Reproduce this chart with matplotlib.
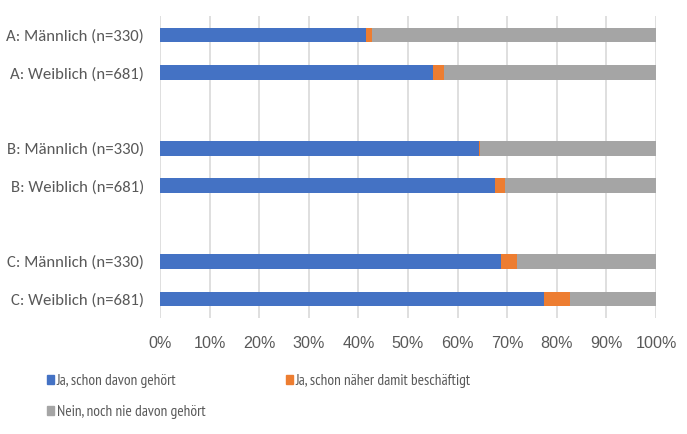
import matplotlib
matplotlib.use("Agg")
import matplotlib.pyplot as plt
from matplotlib.patches import Patch
from matplotlib.ticker import PercentFormatter, MultipleLocator

categories = ["A: Männlich (n=330)", "A: Weiblich (n=681)", "",
              "B: Männlich (n=330)", "B: Weiblich (n=681)", "",
              "C: Männlich (n=330)", "C: Weiblich (n=681)"]
gehoert = [41.5, 55.0, 0, 64.3, 67.6, 0, 68.8, 77.4]
beschaeftigt = [1.2, 2.3, 0, 0.3, 2.0, 0, 3.2, 5.3]
nie = [57.3, 42.7, 0, 35.4, 30.4, 0, 28.0, 17.3]
series_names = ["Ja, schon davon gehört", "Ja, schon näher damit beschäftigt",
                "Nein, noch nie davon gehört"]
colors = ["#4472C4", "#ED7D31", "#A5A5A5"]

plt.rcParams['font.family'] = ['Carlito', 'DejaVu Sans']
text_color = "#595959"

fig = plt.figure(figsize=(6.87, 4.34), dpi=100)
ax = fig.add_axes([160/687, 1-317.8/434, 496/687, 301.6/434])

y = list(range(len(categories)))
left = [0]*len(categories)
for vals, col in zip([gehoert, beschaeftigt, nie], colors):
    ax.barh(y, vals, left=left, height=0.39, color=col, zorder=3)
    left = [l+v for l, v in zip(left, vals)]

ax.set_ylim(len(categories)-0.5, -0.5)
ax.set_xlim(0, 100)
ax.set_yticks(y)
ax.set_yticklabels(categories, fontsize=12.1, color=text_color)
ax.xaxis.set_major_locator(MultipleLocator(10))
ax.xaxis.set_major_formatter(PercentFormatter(decimals=0))
ax.tick_params(axis='x', labelfontfamily='Liberation Sans', labelsize=11.6,
               labelcolor=text_color, pad=13)
ax.grid(axis='x', color='#D9D9D9', linewidth=1.2, zorder=0)
for s in ax.spines.values():
    s.set_visible(False)
ax.tick_params(axis='both', length=0)
ax.tick_params(axis='y', pad=11.5)

# legend entries laid out in two rows (row 1: two entries, row 2: one)
legend_pos = [(46.7/687, 1-381/434), (285.7/687, 1-381/434), (46.7/687, 1-412/434)]
for name, col, (lx, ly) in zip(series_names, colors, legend_pos):
    fig.legend([Patch(color=col)], [name], loc='center left',
               bbox_to_anchor=(lx, ly), frameon=False,
               prop={'family': ['PT Sans Narrow', 'Carlito'], 'size': 11.1},
               handlelength=0.5, handleheight=0.53, handletextpad=0.15,
               borderpad=0, borderaxespad=0, labelcolor=text_color)

fig.savefig("out.png", dpi=100)
